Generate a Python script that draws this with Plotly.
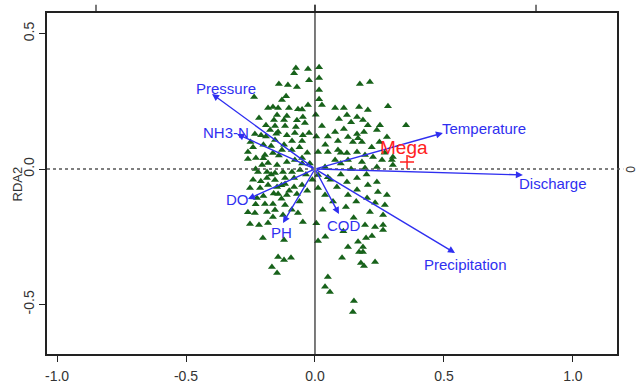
import plotly.graph_objects as go

# --- site scores (RDA1, RDA2) ---
site_x = [-0.074,-0.027,-0.081,-0.023,-0.140,-0.105,-0.070,-0.236,-0.112,-0.128,-0.027,-0.182,-0.163,-0.143,-0.101,-0.066,
          -0.147,-0.109,-0.217,-0.159,-0.120,-0.047,-0.190,-0.155,-0.116,-0.074,-0.039,-0.233,-0.209,-0.174,-0.143,-0.109,
          -0.078,-0.047,-0.023,-0.155,-0.089,-0.050,
          0.016,0.016,0.016,0.016,0.027,0.174,0.213,0.283,0.078,0.112,0.171,0.205,0.124,0.163,0.093,0.186,0.140,0.027,
          0.112,0.205,0.240,0.252,0.078,0.163,0.190,0.128,0.167,0.089,0.147,0.182,0.279,0.353,0.302,0.302,
          -0.260,-0.260,-0.229,-0.194,-0.163,-0.128,-0.205,-0.182,-0.147,-0.109,-0.078,-0.050,-0.221,-0.186,-0.155,-0.124,
          -0.089,-0.058,-0.186,-0.155,-0.116,-0.081,-0.182,-0.147,-0.116,-0.252,-0.213,-0.081,-0.050,-0.143,-0.109,-0.070,
          -0.225,-0.194,-0.163,-0.116,-0.233,-0.186,-0.155,-0.124,-0.066,-0.252,-0.217,-0.182,-0.047,-0.163,
          0.012,0.050,0.089,0.124,0.163,0.194,0.225,0.078,0.128,0.182,0.260,0.298,0.039,0.194,0.240,0.012,0.050,0.163,
          0.124,0.205,0.240,0.012,0.085,0.163,0.244,0.279,0.039,0.128,0.202,0.233,0.271,0.213,0.264,0.194,0.233,0.264,0.264,
          -0.202,-0.120,-0.143,-0.120,-0.093,-0.167,-0.147,
          0.012,0.128,0.167,0.198,0.221,0.186,0.171,0.186,0.105,0.178,0.190,0.233,0.050,0.039,0.058,0.151,0.147,
          -0.24,-0.20,-0.17,-0.14,-0.12,-0.09,-0.06,-0.03,-0.02,-0.035,-0.01,-0.24,-0.21,-0.17,-0.13,-0.10,-0.06,-0.03,
          -0.20,-0.16,-0.13,-0.09,-0.20,-0.23,-0.05,0.005,0.003,0.04,0.06,0.10,0.14,0.10,0.03,0.07,0.12,0.16,0.20,0.22,
          0.25,0.27,0.005,0.04,0.11,0.15,0.10,0.05,-0.19,-0.25,-0.26,-0.23,-0.15,-0.07,-0.05]
site_y = [0.373,0.369,0.354,0.328,0.314,0.310,0.303,0.266,0.269,0.255,0.236,0.225,0.229,0.225,0.225,0.221,
          0.199,0.196,0.188,0.181,0.181,0.192,0.162,0.159,0.159,0.155,0.170,0.129,0.125,0.144,0.137,0.125,
          0.133,0.125,0.133,0.107,0.103,0.103,
          0.376,0.336,0.292,0.258,0.236,0.314,0.321,0.232,0.225,0.225,0.229,0.218,0.199,0.192,0.185,0.181,0.173,0.159,
          0.148,0.162,0.144,0.162,0.137,0.129,0.137,0.118,0.114,0.103,0.100,0.100,0.118,0.162,0.044,0.015,
          0.063,0.037,0.041,0.052,0.059,0.070,0.015,0.022,0.015,0.026,0.033,0.041,-0.011,-0.011,-0.015,-0.011,
          -0.011,-0.004,-0.033,-0.041,-0.033,-0.033,-0.059,-0.066,-0.055,-0.070,-0.070,-0.066,-0.059,-0.092,-0.096,-0.092,
          -0.107,-0.129,-0.129,-0.133,-0.162,-0.159,-0.151,-0.170,-0.162,-0.203,-0.207,-0.199,-0.196,-0.177,
          0.063,0.063,0.070,0.059,0.063,0.052,0.044,0.033,0.033,0.026,0.033,0.033,0.007,0.004,0.007,-0.022,-0.030,-0.033,
          -0.048,-0.059,-0.048,-0.070,-0.066,-0.077,-0.085,-0.096,-0.096,-0.096,-0.107,-0.125,-0.133,-0.159,-0.170,-0.207,-0.214,-0.207,-0.225,
          -0.255,-0.262,-0.325,-0.336,-0.328,-0.362,-0.384,
          -0.266,-0.288,-0.269,-0.255,-0.247,-0.288,-0.306,-0.306,-0.328,-0.347,-0.358,-0.343,-0.399,-0.435,-0.454,-0.487,-0.528,
          0.08,0.09,0.085,0.05,0.09,0.07,0.08,0.06,0.02,-0.02,-0.04,-0.04,-0.045,-0.02,-0.06,-0.08,-0.12,-0.08,
          -0.10,-0.09,-0.11,-0.15,0.04,0.00,0.02,0.12,0.20,0.09,-0.04,-0.02,0.00,0.02,-0.15,-0.12,-0.14,-0.12,-0.02,0.08,
          0.10,0.06,-0.20,-0.25,-0.23,-0.18,0.06,0.12,0.12,0.10,-0.16,-0.13,0.13,0.18,0.22]

# --- environmental variable arrows (tips) ---
env_names = ["Pressure", "NH3-N", "DO", "PH", "COD", "Precipitation", "Temperature", "Discharge"]
env_x = [-0.399, -0.302, -0.260, -0.124, 0.093, 0.543, 0.496, 0.806]
env_y = [0.277, 0.129, -0.111, -0.199, -0.166, -0.310, 0.133, -0.022]
lab_x = [-0.345, -0.345, -0.302, -0.128, 0.112, 0.585, 0.655, 0.922]
lab_y = [0.299, 0.133, -0.114, -0.236, -0.210, -0.351, 0.151, -0.055]

# --- species score ---
sp_name = "Mega"
sp_x = [0.357]
sp_y = [0.026]
sp_lab = (0.345, 0.081)

x_ticks = [-1.0, -0.5, 0.0, 0.5, 1.0]
y_ticks = [-0.5, 0.0, 0.5]
top_ticks = [-0.849, 0.0, 0.857]

XR = [-1.039, 1.171]
YR = [-0.683, 0.576]

FONT = "Liberation Sans, Arial, sans-serif"
BLUE = "#2f2ff0"

fig = go.Figure()
fig.add_trace(go.Scatter(x=site_x, y=site_y, mode="markers",
                         marker=dict(symbol="triangle-up", size=7, color="#17621a",
                                     line=dict(width=0)), hoverinfo="skip"))
fig.add_trace(go.Scatter(x=sp_x, y=sp_y, mode="markers",
                         marker=dict(symbol="cross-thin", size=10,
                                     line=dict(width=1.5, color="#ff2020")), hoverinfo="skip"))

shapes = []
# zero lines
shapes.append(dict(type="line", xref="paper", yref="y", x0=0, x1=1.011, y0=0, y1=0,
                   line=dict(color="#555", width=1.5, dash="dot")))
shapes.append(dict(type="line", xref="x", yref="paper", x0=0, x1=0, y0=0, y1=1.024,
                   line=dict(color="#222", width=1.2)))
for t in top_ticks:
    shapes.append(dict(type="line", xref="x", yref="paper", x0=t, x1=t, y0=1, y1=1.024,
                       line=dict(color="#222", width=1.2)))

annotations = []
for n, x, y, lx, ly in zip(env_names, env_x, env_y, lab_x, lab_y):
    annotations.append(dict(x=x, y=y, ax=0, ay=0, xref="x", yref="y", axref="x", ayref="y",
                            text="", showarrow=True, arrowhead=2, arrowsize=1, arrowwidth=1.4,
                            arrowcolor=BLUE))
    annotations.append(dict(x=lx, y=ly, xref="x", yref="y", text=n, showarrow=False,
                            font=dict(family=FONT, size=15, color=BLUE)))
annotations.append(dict(x=sp_lab[0], y=sp_lab[1], xref="x", yref="y", text=sp_name,
                        showarrow=False, font=dict(family=FONT, size=19, color="#ff2020")))
annotations.append(dict(x=1.024, y=0, xref="paper", yref="y", text="0", showarrow=False,
                        textangle=-90, font=dict(family=FONT, size=12, color="#333"),
                        xanchor="center"))
# y-axis title
annotations.append(dict(x=-0.051, y=0.5, xref="paper", yref="paper", text="RDA2",
                        showarrow=False, textangle=-90, xanchor="center", yanchor="middle",
                        font=dict(family=FONT, size=13, color="#333")))

fig.update_layout(
    width=637, height=384,
    margin=dict(l=47, r=20, t=13, b=30),
    paper_bgcolor="white", plot_bgcolor="white",
    showlegend=False,
    shapes=shapes, annotations=annotations,
    font=dict(family=FONT, color="#333"),
    xaxis=dict(range=XR, tickvals=x_ticks, ticktext=[f"{v:.1f}" for v in x_ticks],
               showgrid=False, zeroline=False, showline=True, mirror=True, automargin=False,
               linecolor="#222", linewidth=1.5, ticks="outside", ticklen=6, tickwidth=1.2,
               tickcolor="#222", ticklabelstandoff=2, tickfont=dict(size=14, color="#333")),
    yaxis=dict(range=YR, tickvals=y_ticks, ticktext=[f"{v:.1f}" for v in y_ticks],
               showgrid=False, zeroline=False, showline=True, mirror=True, automargin=False,
               linecolor="#222", linewidth=1.5, ticks="outside", ticklen=6, tickwidth=1.2,
               tickcolor="#222", tickangle=-90, tickfont=dict(size=14, color="#333")),
)

fig.write_html("out.html")
